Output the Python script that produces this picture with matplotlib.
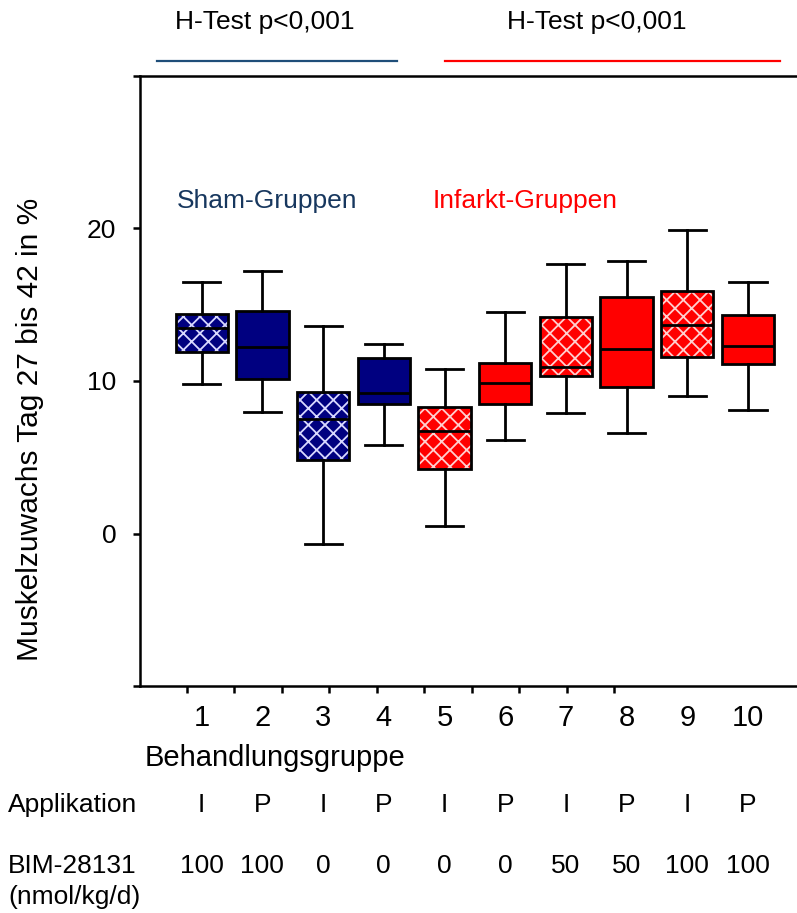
import numpy as np
import matplotlib.pyplot as plt
from matplotlib.patches import PathPatch

plt.rcParams['font.family'] = ['Liberation Sans', 'DejaVu Sans']
plt.rcParams['hatch.linewidth'] = 1.3

# box statistics (whisker low, Q1, median, Q3, whisker high)
groups = [1, 2, 3, 4, 5, 6, 7, 8, 9, 10]
whis_lo = [9.8, 8.0, -0.7, 5.8, 0.5, 6.1, 7.9, 6.6, 9.0, 8.1]
q1 = [11.9, 10.1, 4.8, 8.5, 4.2, 8.5, 10.3, 9.6, 11.6, 11.1]
median = [13.5, 12.2, 7.5, 9.2, 6.7, 9.9, 10.9, 12.1, 13.7, 12.3]
q3 = [14.4, 14.6, 9.3, 11.5, 8.3, 11.2, 14.2, 15.5, 15.9, 14.3]
whis_hi = [16.5, 17.2, 13.6, 12.4, 10.8, 14.5, 17.7, 17.9, 19.9, 16.5]
hatched = [True, False, True, False, True, False, True, False, True, False]
applikation = ['I', 'P', 'I', 'P', 'I', 'P', 'I', 'P', 'I', 'P']
bim_dose = ['100', '100', '0', '0', '0', '0', '50', '50', '100', '100']

navy = '#000080'
red = '#FF0000'
box_colors = [navy] * 4 + [red] * 6

W, H = 797, 913


def fx(px):
    return px / W


def fy(py):
    return 1 - py / H


fig = plt.figure(figsize=(W / 100, H / 100), dpi=100)
ax = fig.add_axes([fx(140), fy(686), 1 - fx(140), (686 - 76) / H])

stats = []
for i in range(len(groups)):
    stats.append({'whislo': whis_lo[i], 'q1': q1[i], 'med': median[i],
                  'q3': q3[i], 'whishi': whis_hi[i], 'fliers': []})

bp = ax.bxp(stats, positions=groups, widths=0.86, patch_artist=True,
            showfliers=False,
            boxprops=dict(linewidth=2.0, edgecolor='black'),
            whiskerprops=dict(linewidth=2.0, color='black'),
            capprops=dict(linewidth=2.0, color='black'),
            medianprops=dict(linewidth=2.0, color='black'),
            capwidths=0.61)

for i, box in enumerate(bp['boxes']):
    box.set_facecolor(box_colors[i])
    if hatched[i]:
        box.set_hatch('xx')
        box.set_edgecolor('#D8D8FF' if box_colors[i] == navy else '#FFD0D0')
        box.set_linewidth(0)
        outline = PathPatch(box.get_path(), facecolor='none',
                            edgecolor='black', linewidth=2.0, zorder=box.get_zorder() + 0.1)
        ax.add_patch(outline)
for m in bp['medians']:
    m.set_zorder(5)

ax.set_xlim(1 - 61.7 / 60.7, 1 + (797 - 201.7) / 60.7)
ax.set_ylim(-10, 30)

# axis ticks (the x ticks of the original do not line up with the boxes)
xt = 1 + (187 - 201.7) / 60.7 + np.arange(10) * 47.47 / 60.7
ax.set_xticks(xt)
ax.set_xticklabels([])
ax.set_yticks([-10, 0, 10, 20, 30])
ax.set_yticklabels(['', '0', '10', '20', ''])
ax.tick_params(axis='y', direction='out', length=5, width=1.8, labelsize=19, pad=12)
ax.tick_params(axis='x', direction='out', length=5, width=1.8)
for s in ['left', 'bottom', 'top']:
    ax.spines[s].set_linewidth(1.8)
ax.spines['right'].set_visible(False)

fig.text(fx(30), fy(429), 'Muskelzuwachs Tag 27 bis 42 in %', rotation=90,
         ha='center', va='center', fontsize=21.5)

fs = 19
for i, g in enumerate(groups):
    xd = ax.transData.transform((g, 0))[0] / fig.dpi / fig.get_figwidth()
    fig.text(xd, fy(718), str(g), ha='center', va='center', fontsize=21)
    fig.text(xd, fy(805), applikation[i], ha='center', va='center', fontsize=fs)
    fig.text(xd, fy(866), bim_dose[i], ha='center', va='center', fontsize=fs)

fig.text(fx(275), fy(758), 'Behandlungsgruppe', ha='center', va='center', fontsize=21)
fig.text(fx(8), fy(805), 'Applikation', ha='left', va='center', fontsize=fs)
fig.text(fx(8), fy(866), 'BIM-28131', ha='left', va='center', fontsize=fs)
fig.text(fx(8), fy(897), '(nmol/kg/d)', ha='left', va='center', fontsize=fs)

fig.text(fx(265), fy(22), 'H-Test p<0,001', ha='center', va='center', fontsize=fs)
fig.text(fx(597), fy(22), 'H-Test p<0,001', ha='center', va='center', fontsize=fs)
fig.add_artist(plt.Line2D([fx(157), fx(397)], [fy(61), fy(61)], color='#1F4E79', linewidth=1.6))
fig.add_artist(plt.Line2D([fx(445), fx(780)], [fy(61), fy(61)], color=red, linewidth=1.6))

fig.text(fx(267), fy(201), 'Sham-Gruppen', ha='center', va='center', fontsize=fs, color='#17375E')
fig.text(fx(525), fy(201), 'Infarkt-Gruppen', ha='center', va='center', fontsize=fs, color=red)

fig.savefig('out.png', dpi=100)
